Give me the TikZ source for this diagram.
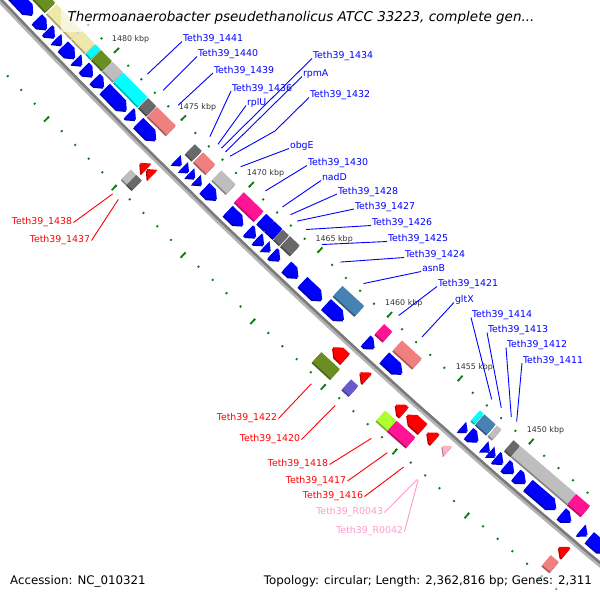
\documentclass[tikz,border=0pt]{standalone}
\usepackage{fontspec}
\setmainfont{DejaVu Sans}
\usetikzlibrary{calc}
\definecolor{cdsColor}{HTML}{0000FF}
\definecolor{revColor}{HTML}{FF0000}
\definecolor{rnaColor}{HTML}{FFB0C8}
\definecolor{rnaText}{HTML}{FF99CC}
\definecolor{oliveCog}{HTML}{6B8E23}
\definecolor{paleCog}{HTML}{EEE8AA}
\definecolor{cyanCog}{HTML}{00FFFF}
\definecolor{greyCog}{HTML}{BEBEBE}
\definecolor{dimCog}{HTML}{696969}
\definecolor{salmonCog}{HTML}{F08080}
\definecolor{pinkCog}{HTML}{FF1493}
\definecolor{steelCog}{HTML}{4682B4}
\definecolor{slateCog}{HTML}{6A5ACD}
\definecolor{limeCog}{HTML}{ADFF2F}
\definecolor{tickColor}{HTML}{107C10}
\definecolor{backLight}{HTML}{B4B4B4}
\definecolor{backDark}{HTML}{7A7A7A}
\def\rB{7196}
% box on the map: from p_lo to p_hi (kbp), radial d_a to d_b
\newcommand{\gbox}[5]{%
	\fill[#5!70!black,xshift=-1pt,yshift=-1.5pt] ({gang(#1)}:{\rB+(#3)}) -- ({gang(#2)}:{\rB+(#3)}) -- ({gang(#2)}:{\rB+(#4)}) -- ({gang(#1)}:{\rB+(#4)}) -- cycle;
	\fill[#5] ({gang(#1)}:{\rB+(#3)}) -- ({gang(#2)}:{\rB+(#3)}) -- ({gang(#2)}:{\rB+(#4)}) -- ({gang(#1)}:{\rB+(#4)}) -- cycle;}
\newcommand{\cogin}[3]{\gbox{#1}{#2}{-38}{-25}{#3}}
\newcommand{\cogout}[3]{\gbox{#1}{#2}{25}{38}{#3}}
\newcommand{\cdsin}[2]{%
	\pgfmathsetmacro\headP{min(#1+0.4,#2)}%
	\fill[cdsColor!70!black,xshift=-1pt,yshift=-1.5pt] ({gang(#2)}:{\rB-20.5}) -- ({gang(\headP)}:{\rB-20.5}) -- ({gang(#1)}:{\rB-14}) -- ({gang(\headP)}:{\rB-7.5}) -- ({gang(#2)}:{\rB-7.5}) -- cycle;
	\fill[cdsColor] ({gang(#2)}:{\rB-20.5}) -- ({gang(\headP)}:{\rB-20.5}) -- ({gang(#1)}:{\rB-14}) -- ({gang(\headP)}:{\rB-7.5}) -- ({gang(#2)}:{\rB-7.5}) -- cycle;}
\newcommand{\cdsout}[3]{%
	\pgfmathsetmacro\headP{max(#2-0.4,#1)}%
	\fill[#3!70!black,xshift=-1pt,yshift=-1.5pt] ({gang(#1)}:{\rB+7}) -- ({gang(\headP)}:{\rB+7}) -- ({gang(#2)}:{\rB+13.5}) -- ({gang(\headP)}:{\rB+20}) -- ({gang(#1)}:{\rB+20}) -- cycle;
	\fill[#3] ({gang(#1)}:{\rB+7}) -- ({gang(\headP)}:{\rB+7}) -- ({gang(#2)}:{\rB+13.5}) -- ({gang(\headP)}:{\rB+20}) -- ({gang(#1)}:{\rB+20}) -- cycle;}
\tikzset{
	ruler/.style={draw=tickColor, line width=1.8pt},
	blab/.style={text=cdsColor, font=\fontsize{9.4}{11}\selectfont, anchor=base west, inner sep=0pt, outer sep=1pt},
	rlab/.style={text=revColor, font=\fontsize{9.4}{11}\selectfont, anchor=east, inner sep=0pt, outer sep=1.5pt},
	plab/.style={rlab, text=rnaText},
	bline/.style={draw=cdsColor, line width=0.9pt},
	rline/.style={draw=revColor, line width=0.9pt},
	pline/.style={draw=rnaText, line width=0.9pt},
	kbp/.style={text=black!80, font=\fontsize{7.9}{9}\selectfont, inner sep=0pt},
	foot/.style={font=\fontsize{11.8}{13}\selectfont, fill=white, fill opacity=0.6, text opacity=1, inner sep=2pt}
}

\begin{document}
\begin{tikzpicture}[x=1pt, y=-1pt,
	declare function={gang(\p)=135.576+(\p-1480)*0.15236;}]
	\useasboundingbox (0,0) rectangle (600,600);
	\clip (0,0) rectangle (600,600);
	\begin{scope}[shift={(5220.7,-4952.1)}]
		% backbone
		\draw[line width=5pt, draw=backLight] plot[domain=1438:1490, samples=27] ({gang(\x)}:{\rB+0.5});
		\draw[line width=2.5pt, draw=backDark] plot[domain=1438:1490, samples=27] ({gang(\x)}:{\rB-1});
		% rulers
		\foreach \k in {1440,...,1488}{
			\draw[ruler] ({gang(\k)}:{\rB-45.3}) -- ({gang(\k)}:{\rB-47.3});
			\draw[ruler] ({gang(\k)}:{\rB+46}) -- ({gang(\k)}:{\rB+48});}
		\foreach \k in {1440,1445,...,1485}{
			\draw[ruler] ({gang(\k)}:{\rB-45.3}) -- ({gang(\k)}:{\rB-52.3});
			\draw[ruler] ({gang(\k)}:{\rB+46}) -- ({gang(\k)}:{\rB+53});}
		\foreach \k in {1450,1455,...,1480}
			\node[kbp, xshift=16pt, yshift=13pt] (t\k) at ({gang(\k)}:{\rB-46}) {\k\ kbp};
		% reverse strand genes
		\cdsin{1484.4}{1487.5}
		\cdsin{1483.35}{1484.09}
		\cdsin{1482.75}{1483.3}
		\cdsin{1482.2}{1482.65}
		\cdsin{1481.24}{1482.12}
		\cdsin{1480.7}{1481.15}
		\cdsin{1479.9}{1480.56}
		\cdsin{1479.08}{1479.74}
		\cdsin{1477.38}{1479.0}
		\cdsin{1476.7}{1477.2}
		\cdsin{1475.2}{1476.5}
		\cdsin{1473.33}{1473.73}
		\cdsin{1472.8}{1473.2}
		\cdsin{1472.34}{1472.74}
		\cdsin{1471.85}{1472.25}
		\cdsin{1470.75}{1471.63}
		\cdsin{1468.82}{1469.92}
		\cdsin{1467.9}{1468.45}
		\cdsin{1467.32}{1467.82}
		\cdsin{1466.85}{1467.25}
		\cdsin{1466.15}{1466.7}
		\cdsin{1464.84}{1465.68}
		\cdsin{1463.12}{1464.52}
		\cdsin{1461.57}{1462.82}
		\cdsin{1459.4}{1460.0}
		\cdsin{1457.43}{1458.68}
		\cdsin{1452.85}{1453.25}
		\cdsin{1452.1}{1452.75}
		\cdsin{1451.3}{1451.7}
		\cdsin{1450.9}{1451.28}
		\cdsin{1450.35}{1450.85}
		\cdsin{1449.6}{1450.2}
		\cdsin{1448.8}{1449.45}
		\cdsin{1446.7}{1448.62}
		\cdsin{1445.67}{1446.33}
		\cdsin{1444.55}{1445.0}
		\cdsin{1443.2}{1444.4}
		\cogin{1484.05}{1487.5}{oliveCog}
		\cogin{1482.1}{1483.95}{paleCog}
		\cogin{1481.05}{1482.05}{paleCog}
		\cogin{1480.62}{1481.0}{cyanCog}
		\cogin{1479.78}{1480.58}{oliveCog}
		\cogin{1478.95}{1479.74}{greyCog}
		\cogin{1477.12}{1478.92}{cyanCog}
		\cogin{1476.45}{1477.05}{dimCog}
		\cogin{1475.0}{1476.4}{salmonCog}
		\cogin{1473.1}{1473.6}{dimCog}
		\cogin{1472.1}{1473.0}{salmonCog}
		\cogin{1470.6}{1471.64}{greyCog}
		\cogin{1468.56}{1470.0}{pinkCog}
		\cogin{1467.82}{1468.36}{cdsColor}
		\cogin{1467.2}{1467.8}{cdsColor}
		\cogin{1466.72}{1467.15}{dimCog}
		\cogin{1465.95}{1466.65}{dimCog}
		\cogin{1461.3}{1462.85}{steelCog}
		\cogin{1459.3}{1459.88}{pinkCog}
		\cogin{1457.2}{1458.6}{salmonCog}
		\cogin{1452.85}{1453.1}{cyanCog}
		\cogin{1452.0}{1452.8}{steelCog}
		\cogin{1451.6}{1451.9}{greyCog}
		\cogin{1450.3}{1450.75}{dimCog}
		\cogin{1446.42}{1450.28}{greyCog}
		\cogin{1445.45}{1446.4}{pinkCog}
		% forward strand genes
		\cdsout{1474.5}{1474.95}{revColor}
		\cdsout{1474.05}{1474.48}{revColor}
		\cdsout{1460.15}{1461.03}{revColor}
		\cdsout{1458.6}{1459.1}{revColor}
		\cdsout{1456.0}{1456.6}{revColor}
		\cdsout{1454.7}{1455.8}{revColor}
		\cdsout{1453.85}{1454.4}{revColor}
		\cdsout{1452.95}{1453.35}{rnaColor}
		\cdsout{1444.8}{1445.3}{revColor}
		\cogout{1474.65}{1475.05}{greyCog}
		\cogout{1474.25}{1474.65}{dimCog}
		\cogout{1460.0}{1461.3}{oliveCog}
		\cogout{1458.7}{1459.2}{slateCog}
		\cogout{1456.0}{1456.8}{limeCog}
		\cogout{1454.7}{1456.0}{pinkCog}
		\cogout{1444.8}{1445.35}{salmonCog}
		% label feet
		\coordinate (g1441) at ({gang(1477.97)}:{\rB-54});
		\coordinate (g1440) at ({gang(1476.78)}:{\rB-54});
		\coordinate (g1439) at ({gang(1475.67)}:{\rB-54});
		\coordinate (g1436) at ({gang(1473.32)}:{\rB-54});
		\coordinate (grplU) at ({gang(1472.73)}:{\rB-54});
		\coordinate (g1434) at ({gang(1472.46)}:{\rB-54});
		\coordinate (grpmA) at ({gang(1472.17)}:{\rB-54});
		\coordinate (g1432) at ({gang(1471.84)}:{\rB-54});
		\coordinate (gobgE) at ({gang(1471.05)}:{\rB-54});
		\coordinate (g1430) at ({gang(1469.23)}:{\rB-54});
		\coordinate (gnadD) at ({gang(1468.0)}:{\rB-54});
		\coordinate (g1428) at ({gang(1467.41)}:{\rB-54});
		\coordinate (g1427) at ({gang(1466.92)}:{\rB-54});
		\coordinate (g1426) at ({gang(1466.28)}:{\rB-54});
		\coordinate (g1425) at ({gang(1465.13)}:{\rB-54});
		\coordinate (g1424) at ({gang(1463.79)}:{\rB-54});
		\coordinate (gasnB) at ({gang(1462.12)}:{\rB-54});
		\coordinate (g1421) at ({gang(1459.62)}:{\rB-54});
		\coordinate (ggltX) at ({gang(1457.95)}:{\rB-54});
		\coordinate (g1414) at ({gang(1453.03)}:{\rB-54});
		\coordinate (g1413) at ({gang(1452.35)}:{\rB-54});
		\coordinate (g1412) at ({gang(1451.64)}:{\rB-54});
		\coordinate (g1411) at ({gang(1451.27)}:{\rB-54});
		\coordinate (g1438) at ({gang(1474.83)}:{\rB+55});
		\coordinate (g1437) at ({gang(1474.42)}:{\rB+55});
		\coordinate (g1422) at ({gang(1460.57)}:{\rB+55});
		\coordinate (g1420) at ({gang(1458.9)}:{\rB+55});
		\coordinate (g1418) at ({gang(1456.36)}:{\rB+55});
		\coordinate (g1417) at ({gang(1455.25)}:{\rB+55});
		\coordinate (g1416) at ({gang(1454.12)}:{\rB+55});
		\coordinate (gR0043) at ({gang(1453.17)}:{\rB+55});
		\coordinate (gR0042) at ({gang(1453.12)}:{\rB+55});
	\end{scope}
	\coordinate (k1432) at (275,131);
	% reverse strand labels
	\node[blab] (l1441) at (182,41.5) {Teth39\_1441};
	\node[blab] (l1440) at (197,56.5) {Teth39\_1440};
	\node[blab] (l1439) at (213,73) {Teth39\_1439};
	\node[blab] (l1436) at (231,91) {Teth39\_1436};
	\node[blab] (lrplU) at (246,105.5) {rplU};
	\node[blab] (l1434) at (312,58.5) {Teth39\_1434};
	\node[blab] (lrpmA) at (302,76.5) {rpmA};
	\node[blab] (l1432) at (309,97.5) {Teth39\_1432};
	\node[blab] (lobgE) at (289,148.5) {obgE};
	\node[blab] (l1430) at (307,165.5) {Teth39\_1430};
	\node[blab] (lnadD) at (321,180.5) {nadD};
	\node[blab] (l1428) at (337,194) {Teth39\_1428};
	\node[blab] (l1427) at (354,209) {Teth39\_1427};
	\node[blab] (l1426) at (371,225.5) {Teth39\_1426};
	\node[blab] (l1425) at (387,241.5) {Teth39\_1425};
	\node[blab] (l1424) at (404,257.5) {Teth39\_1424};
	\node[blab] (lasnB) at (421,271.5) {asnB};
	\node[blab] (l1421) at (437,286.5) {Teth39\_1421};
	\node[blab] (lgltX) at (454,302.5) {gltX};
	\node[blab] (l1414) at (471,317.5) {Teth39\_1414};
	\node[blab] (l1413) at (487,332.5) {Teth39\_1413};
	\node[blab] (l1412) at (506,347.5) {Teth39\_1412};
	\node[blab] (l1411) at (522,363) {Teth39\_1411};
	\draw[bline] (g1441) -- (l1441.base west);
	\draw[bline] (g1440) -- (l1440.base west);
	\draw[bline] (g1439) -- (l1439.base west);
	\draw[bline] (g1436) -- (l1436.base west);
	\draw[bline] (grplU) -- (lrplU.base west);
	\draw[bline] (g1434) -- (l1434.base west);
	\draw[bline] (grpmA) -- (lrpmA.base west);
	\draw[bline] (g1432) -- (k1432) -- (l1432.base west);
	\draw[bline] (gobgE) -- (lobgE.base west);
	\draw[bline] (g1430) -- (l1430.base west);
	\draw[bline] (gnadD) -- (lnadD.base west);
	\draw[bline] (g1428) -- (l1428.base west);
	\draw[bline] (g1427) -- (l1427.base west);
	\draw[bline] (g1426) -- (l1426.base west);
	\draw[bline] (g1425) -- (l1425.base west);
	\draw[bline] (g1424) -- (l1424.base west);
	\draw[bline] (gasnB) -- (lasnB.base west);
	\draw[bline] (g1421) -- (l1421.base west);
	\draw[bline] (ggltX) -- (lgltX.base west);
	\draw[bline] (g1414) -- (l1414.base west);
	\draw[bline] (g1413) -- (l1413.base west);
	\draw[bline] (g1412) -- (l1412.base west);
	\draw[bline] (g1411) -- (l1411.base west);
	% forward strand labels
	\node[rlab] (l1438) at (73.5,222.5) {Teth39\_1438};
	\node[rlab] (l1437) at (91.5,240.5) {Teth39\_1437};
	\node[rlab] (l1422) at (278.5,418.5) {Teth39\_1422};
	\node[rlab] (l1420) at (301.5,439.5) {Teth39\_1420};
	\node[rlab] (l1418) at (329.5,464.5) {Teth39\_1418};
	\node[rlab] (l1417) at (347.5,481) {Teth39\_1417};
	\node[rlab] (l1416) at (364.5,496.5) {Teth39\_1416};
	\node[plab] (lR0043) at (384.5,512.5) {Teth39\_R0043};
	\node[plab] (lR0042) at (404.5,531.5) {Teth39\_R0042};
	\draw[rline] (g1438) -- (l1438.east);
	\draw[rline] (g1437) -- (l1437.east);
	\draw[rline] (g1422) -- (l1422.east);
	\draw[rline] (g1420) -- (l1420.east);
	\draw[rline] (g1418) -- (l1418.east);
	\draw[rline] (g1417) -- (l1417.east);
	\draw[rline] (g1416) -- (l1416.east);
	\draw[pline] (gR0043) -- (lR0043.east);
	\draw[pline] (gR0042) -- (lR0042.east);
	% title and footer
	\node[fill=white, fill opacity=0.6, text opacity=1, inner xsep=7pt, minimum height=27pt,
		font=\fontsize{13.5}{15}\selectfont\itshape] (title) at (301,18)
		{Thermoanaerobacter pseudethanolicus ATCC 33223, complete gen...};
	\node[foot, anchor=west] (acc) at (8,581) {Accession: NC\_010321};
	\node[foot, anchor=east] (topo) at (594,581) {Topology: circular; Length: 2,362,816 bp; Genes: 2,311};
\end{tikzpicture}
\end{document}
